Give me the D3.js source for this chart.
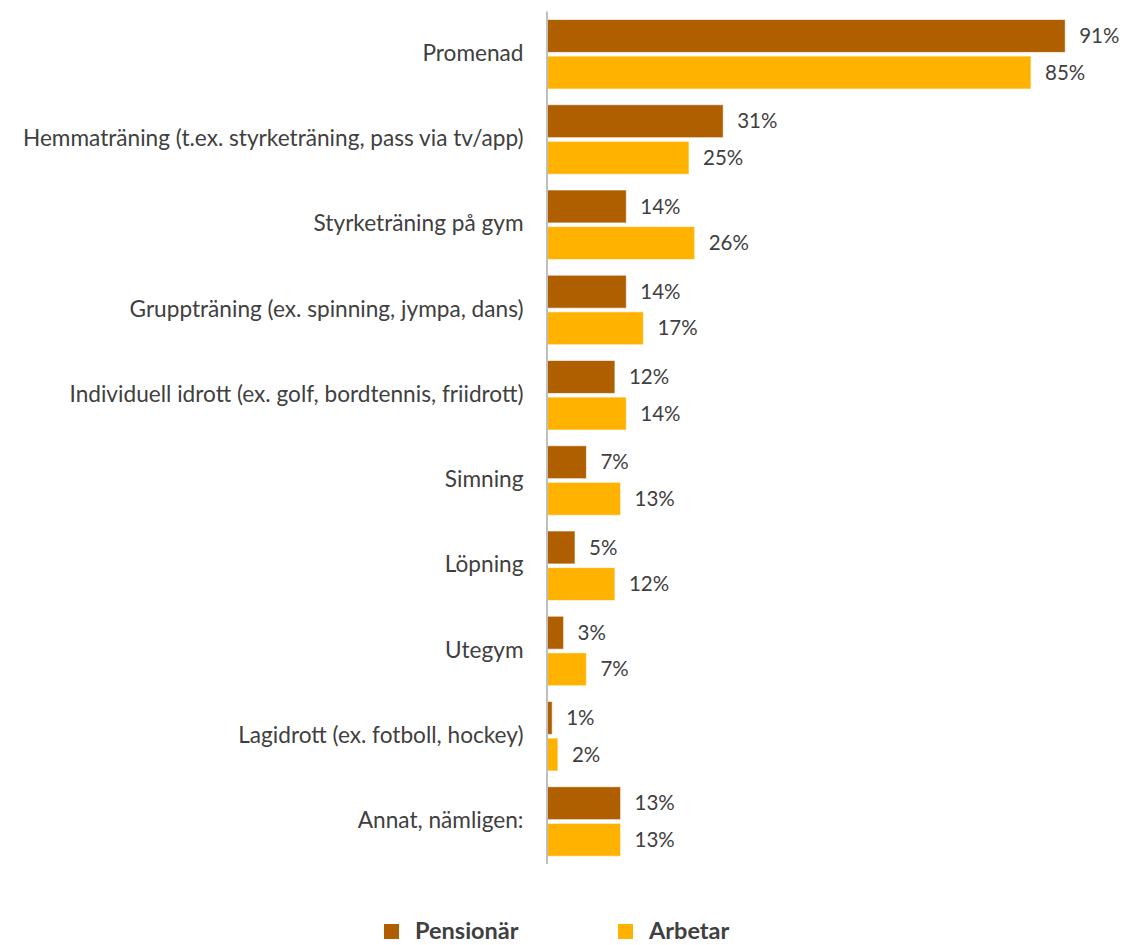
<!DOCTYPE html>
<html>
<head>
<meta charset="utf-8">
<script src="https://cdn.jsdelivr.net/npm/d3@7"></script>
<style>
  html, body { margin: 0; padding: 0; background: #fff; }
  svg { display: block; }
  text { font-family: Lato, "Open Sans", sans-serif; fill: #404040; }
</style>
</head>
<body>
<svg id="chart" width="1125" height="945"></svg>
<script>
// Activities and share of respondents per group (%)
const categories = [
  "Promenad",
  "Hemmaträning (t.ex. styrketräning, pass via tv/app)",
  "Styrketräning på gym",
  "Gruppträning (ex. spinning, jympa, dans)",
  "Individuell idrott (ex. golf, bordtennis, friidrott)",
  "Simning",
  "Löpning",
  "Utegym",
  "Lagidrott (ex. fotboll, hockey)",
  "Annat, nämligen:"
];
const seriesNames = ["Pensionär", "Arbetar"];
const pensionar = [91, 31, 14, 14, 12, 7, 5, 3, 1, 13];
const arbetar   = [85, 25, 26, 17, 14, 13, 12, 7, 2, 13];
const colors = ["#AF5E00", "#FFB300"];

const svg = d3.select("#chart");

// Layout
const axisX = 546.5;
const plotTop = 11, plotBottom = 863.5;

const x = d3.scaleLinear().domain([0, 100]).range([axisX, axisX + 570]);
const y = d3.scaleBand().domain(categories).range([plotTop, plotBottom]).padding(0);
const ySub = d3.scaleBand().domain(seriesNames).range([8.5, 78]).paddingInner(0.1);

const rows = categories.map((c, i) => ({
  cat: c,
  values: [
    { series: seriesNames[0], v: pensionar[i] },
    { series: seriesNames[1], v: arbetar[i] }
  ]
}));

const groups = svg.append("g").selectAll("g.row")
  .data(rows).join("g")
  .attr("class", "row")
  .attr("transform", d => `translate(0,${y(d.cat)})`);

groups.selectAll("rect")
  .data(d => d.values).join("rect")
  .attr("x", x(0))
  .attr("y", d => ySub(d.series))
  .attr("width", d => x(d.v) - x(0))
  .attr("height", ySub.bandwidth())
  .attr("fill", (d, i) => colors[i])
  .attr("stroke", "#fff")
  .attr("stroke-opacity", 0.6)
  .attr("stroke-width", 1);

groups.selectAll("text.val")
  .data(d => d.values).join("text")
  .attr("class", "val")
  .attr("x", d => x(d.v) + 14)
  .attr("y", d => ySub(d.series) + ySub.bandwidth() / 2 + 2)
  .attr("dominant-baseline", "middle")
  .style("font-size", "20.5px")
  .text(d => d.v + "%");

// Category axis
const axis = svg.append("g")
  .attr("transform", `translate(${axisX},0)`)
  .call(d3.axisLeft(y).tickSize(0).tickPadding(23));
axis.select(".domain").attr("stroke", "#BFBFBF").attr("stroke-width", 2);
axis.selectAll(".tick text")
  .style("font-size", "20px")
  .style("fill", "#404040")
  .attr("font-family", null);

// Fit label font so the longest category spans the available width
(function fit() {
  const longest = axis.selectAll(".tick text").filter(d => d === categories[1]).node();
  const w = longest.getComputedTextLength();
  axis.selectAll(".tick text").style("font-size", (20 * 501 / w) + "px");
})();

// Legend
const legend = svg.append("g");
const legendItems = [
  { name: seriesNames[0], color: colors[0], x: 384 },
  { name: seriesNames[1], color: colors[1], x: 618 }
];
const li = legend.selectAll("g").data(legendItems).join("g")
  .attr("transform", d => `translate(${d.x},924)`);
li.append("rect").attr("width", 15).attr("height", 15).attr("fill", d => d.color);
li.append("text")
  .attr("x", 31).attr("y", 15)
  .style("font-size", "23.5px").style("font-weight", "bold")
  .text(d => d.name);
</script>
</body>
</html>
